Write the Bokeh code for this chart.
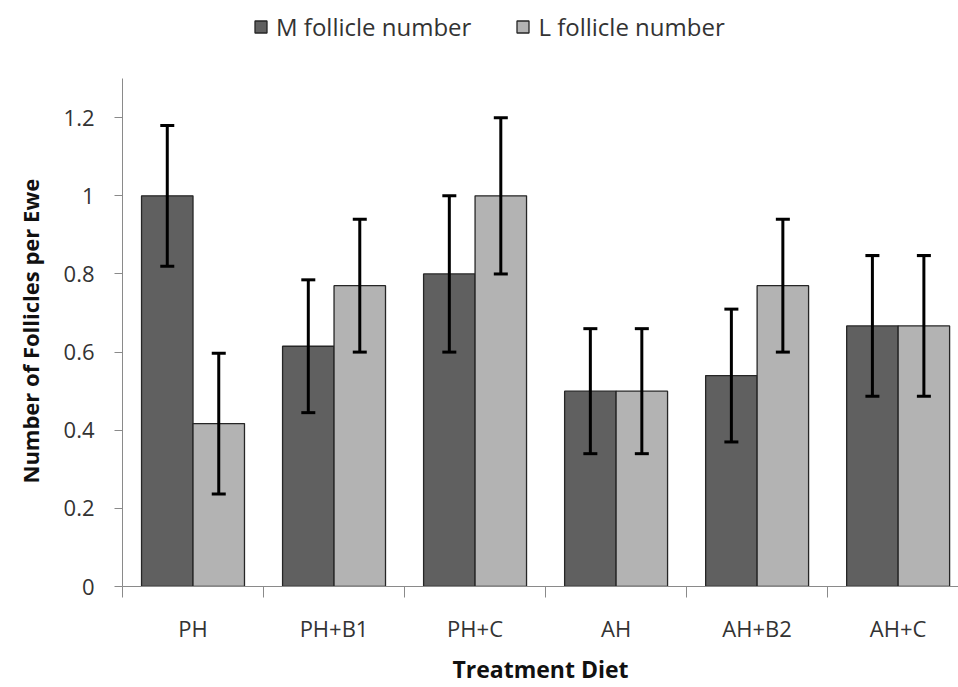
import numpy as np
from bokeh.plotting import figure
from bokeh.models import (ColumnDataSource, Whisker, TeeHead, FixedTicker,
                          Range1d, Legend, LegendItem, Title)
from bokeh.embed import file_html
from bokeh.resources import INLINE

# ---- data ----
categories = ["PH", "PH+B1", "PH+C", "AH", "AH+B2", "AH+C"]
series_names = ["M follicle number", "L follicle number"]
m_values = [1.0, 0.615, 0.8, 0.5, 0.54, 0.667]
m_errors = [0.18, 0.17, 0.2, 0.16, 0.17, 0.18]
l_values = [0.417, 0.77, 1.0, 0.5, 0.77, 0.667]
l_errors = [0.18, 0.17, 0.2, 0.16, 0.17, 0.18]
y_ticks = [0, 0.2, 0.4, 0.6, 0.8, 1.0, 1.2]
y_tick_labels = ["0", "0.2", "0.4", "0.6", "0.8", "1", "1.2"]
y_axis_max = 1.3
x_title = "Treatment Diet"
y_title = "Number of Follicles per Ewe"

FONT = "Open Sans"
DARK = "#606060"
LIGHT = "#b3b3b3"
AXIS = "#8a8a8a"
TEXT = "#333333"

bar_w = 0.365
idx = np.arange(len(categories))
centers = idx + 0.5

# frame reaches the top of the canvas; the axis itself is bounded to 0..1.3
p = figure(width=958, height=687, output_backend="svg", toolbar_location=None,
           x_range=Range1d(0, 5.928), y_range=Range1d(0, 1.5),
           min_border_left=121, min_border_right=0, min_border_top=0,
           min_border_bottom=101)
p.outline_line_color = None
p.grid.visible = False
p.background_fill_color = "white"

def series(vals, errs, offset, color):
    src = ColumnDataSource(dict(
        x=centers + offset, top=vals,
        upper=np.array(vals) + np.array(errs),
        lower=np.array(vals) - np.array(errs)))
    r = p.vbar(x="x", top="top", width=bar_w, bottom=0, source=src,
               fill_color=color, line_color="#262626", line_width=1.3)
    w = Whisker(base="x", upper="upper", lower="lower", source=src,
                line_color="black", line_width=3, level="overlay",
                upper_head=TeeHead(size=14, line_width=3, line_color="black"),
                lower_head=TeeHead(size=14, line_width=3, line_color="black"))
    p.add_layout(w)
    return r

r_m = series(m_values, m_errors, -bar_w / 2, DARK)
r_l = series(l_values, l_errors, bar_w / 2, LIGHT)

# x axis: labels at category centers, tick marks between categories
xa = p.xaxis[0]
xa.ticker = FixedTicker(ticks=list(centers), minor_ticks=list(range(len(categories) + 1)))
xa.major_label_overrides = {float(c): n for c, n in zip(centers, categories)}
xa.major_tick_line_color = None
xa.major_tick_out = 0
xa.major_tick_in = 0
xa.minor_tick_out = 11
xa.minor_tick_in = 0
xa.minor_tick_line_color = AXIS
xa.axis_line_color = AXIS
xa.major_label_text_font = FONT
xa.major_label_text_font_size = "22px"
xa.major_label_text_color = TEXT
xa.major_label_standoff = 15
xa.axis_label = x_title
xa.axis_label_text_font = FONT
xa.axis_label_text_font_style = "bold"
xa.axis_label_text_font_size = "23px"
xa.axis_label_text_color = "#111111"
xa.axis_label_standoff = 7

ya = p.yaxis[0]
ya.bounds = (0, y_axis_max)
ya.ticker = FixedTicker(ticks=y_ticks, minor_ticks=[])
ya.major_label_overrides = dict(zip(y_ticks, y_tick_labels))
ya.major_tick_out = 8
ya.major_tick_in = 0
ya.major_tick_line_color = AXIS
ya.axis_line_color = AXIS
ya.major_label_text_font = FONT
ya.major_label_text_font_size = "22px"
ya.major_label_text_color = TEXT
ya.major_label_standoff = 20

# y axis title, aligned to the bounded part of the axis
yt = Title(text=y_title, align="left", offset=103, vertical_align="top",
           standoff=28, text_font=FONT, text_font_style="bold",
           text_font_size="22px", text_color="#111111")
p.add_layout(yt, "left")

legend = Legend(items=[LegendItem(label=series_names[0], renderers=[r_m]),
                       LegendItem(label=series_names[1], renderers=[r_l])],
                orientation="horizontal", location=(131, 543),
                padding=0, margin=0, spacing=44, label_standoff=8,
                glyph_width=15, glyph_height=15,
                border_line_color=None, background_fill_alpha=0,
                label_text_font=FONT, label_text_font_size="24px",
                label_text_color=TEXT)
p.add_layout(legend, "center")

open("out.html", "w").write(file_html(p, INLINE))
